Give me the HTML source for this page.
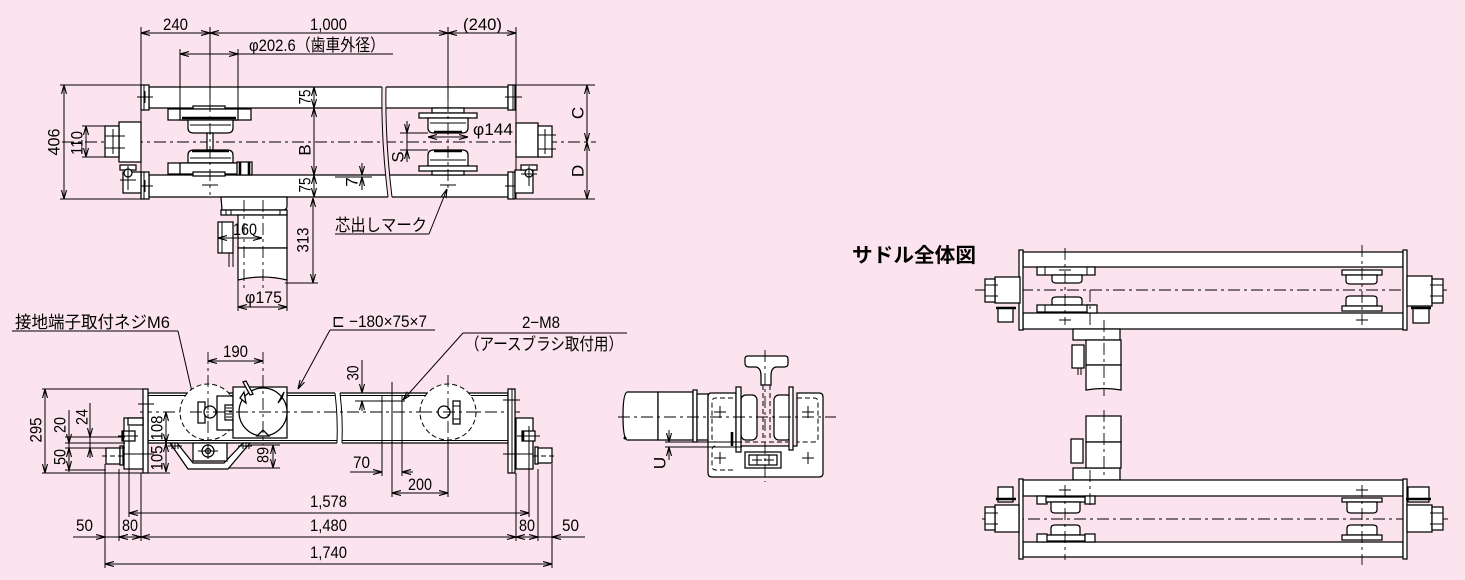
<!DOCTYPE html>
<html><head><meta charset="utf-8"><style>
html,body{margin:0;padding:0;background:#fce4ef;}
svg{display:block}
text{font-family:"Liberation Sans","Noto Sans CJK JP",sans-serif;fill:#000;font-size:17px;}
.o{fill:#fff;stroke:#000;stroke-width:1.25}
.l{fill:none;stroke:#000;stroke-width:1}
.t{fill:none;stroke:#000;stroke-width:2.6}
.c{fill:none;stroke:#000;stroke-width:0.9;stroke-dasharray:12 4 3 4}
.h{fill:none;stroke:#000;stroke-width:1;stroke-dasharray:5 3}
.d{fill:none;stroke:#000;stroke-width:1;marker-start:url(#ar);marker-end:url(#ar)}
.e{fill:none;stroke:#000;stroke-width:1;marker-end:url(#ar)}
.r{text-anchor:middle;dominant-baseline:central}
</style></head><body>
<svg width="1465" height="580" viewBox="0 0 1465 580" xmlns="http://www.w3.org/2000/svg">
<defs>
<marker id="ar" viewBox="0 0 9 6" refX="9" refY="3" markerWidth="9" markerHeight="6" markerUnits="userSpaceOnUse" orient="auto-start-reverse">
<path d="M0,0.5 L9,3 L0,5.5" fill="none" stroke="#000" stroke-width="1.1"/>
</marker>
</defs>
<rect width="1465" height="580" fill="#fce4ef"/>

<!-- ================= TOP VIEW ================= -->
<line class="c" x1="62" y1="142" x2="596" y2="142"/>
<rect class="o" x="149" y="87" width="359" height="21"/>
<rect class="o" x="149" y="175" width="359" height="22"/>
<path d="M382,86 Q381,140 388,198 L392,198 Q385,140 386,86 Z" fill="#fce4ef"/>
<path class="l" d="M382,87 Q381,140 388,197 M386,87 Q385,140 392,197"/>
<line class="l" x1="335" y1="177" x2="372" y2="177"/>
<rect class="o" x="141" y="85" width="8" height="25"/>
<rect class="o" x="141" y="172" width="8" height="27"/>
<path class="l" d="M141,85V199 M144,85V110 M144,172V199"/>
<path class="l" d="M137,97H153 M145,91V103 M137,186H153 M145,180V192"/>
<rect class="o" x="508" y="85" width="7" height="25"/>
<rect class="o" x="508" y="172" width="7" height="27"/>
<path class="l" d="M516,85V199 M513,85V110 M513,172V199"/>
<path class="l" d="M505,97H522 M513,91V103 M505,186H522 M513,180V192"/>
<rect class="o" x="119" y="122" width="22" height="40"/>
<rect class="o" x="105" y="126" width="14" height="31"/>
<path class="l" d="M105,136H125 M105,148H125 M113,129V154"/>
<rect class="o" x="123" y="172" width="18" height="21"/>
<rect class="o" x="120" y="165" width="16" height="5"/>
<circle class="o" cx="128" cy="173" r="4"/>
<path class="l" d="M128,166V190 M120,180H136"/>
<rect class="o" x="516" y="123" width="22" height="34"/>
<rect class="o" x="538" y="126" width="14" height="31"/>
<path class="l" d="M538,135H556 M538,149H556 M545,129V154"/>
<rect class="o" x="515" y="170" width="18" height="23"/>
<rect class="o" x="521" y="165" width="16" height="5"/>
<circle class="o" cx="529" cy="173" r="4"/>
<path class="l" d="M529,166V186 M521,174H537"/>
<rect class="o" x="193" y="106" width="32" height="4"/>
<rect class="o" x="168" y="109" width="83" height="11"/>
<rect class="o" x="180" y="109" width="58" height="11"/>
<line class="t" x1="182" y1="118" x2="236" y2="118"/>
<path class="o" d="M188,120 V128 Q188,133 194,133 H227 Q233,133 233,128 V120 Z"/>
<line class="l" x1="190" y1="125" x2="231" y2="125"/>
<rect class="o" x="207" y="133" width="6" height="17"/>
<path class="o" d="M188,163 V155 Q188,150 194,150 H227 Q233,150 233,155 V163 Z"/>
<line class="t" x1="192" y1="151" x2="229" y2="151"/>
<line class="l" x1="190" y1="158" x2="231" y2="158"/>
<rect class="o" x="168" y="163" width="83" height="11"/>
<rect class="o" x="180" y="163" width="58" height="11"/>
<rect class="o" x="193" y="172" width="32" height="4"/>
<rect class="o" x="237" y="162" width="15" height="13"/>
<path class="t" d="M240,162V175 M249,162V175"/>
<rect class="o" x="432" y="108" width="32" height="5"/>
<rect class="o" x="419" y="113" width="58" height="5"/>
<path class="o" d="M428,118 V128 Q428,133 434,133 H462 Q468,133 468,128 V118 Z"/>
<line class="t" x1="434" y1="132" x2="462" y2="132"/>
<line class="l" x1="430" y1="123" x2="466" y2="123"/>
<path class="o" d="M428,166 V155 Q428,150 434,150 H462 Q468,150 468,155 V166 Z"/>
<line class="t" x1="434" y1="151" x2="462" y2="151"/>
<line class="l" x1="430" y1="160" x2="466" y2="160"/>
<rect class="o" x="419" y="166" width="58" height="5"/>
<rect class="o" x="432" y="171" width="32" height="4"/>
<path class="l" d="M210,27V100 M448,27V100"/>
<path class="c" d="M210,100V195 M448,100V192"/>
<path class="l" d="M202,185H218 M440,185H456"/>
<path class="l" d="M141,27V85 M516,27V85 M180,49V109 M238,49V109"/>
<line class="d" x1="141" y1="33" x2="210" y2="33"/>
<line class="d" x1="210" y1="33" x2="448" y2="33"/>
<line class="d" x1="448" y1="33" x2="516" y2="33"/>
<line class="d" x1="180" y1="54" x2="238" y2="54"/>
<line class="l" x1="238" y1="54" x2="393" y2="54"/>
<text x="163" y="30" textLength="25" lengthAdjust="spacingAndGlyphs">240</text>
<text x="310" y="30" textLength="37" lengthAdjust="spacingAndGlyphs">1,000</text>
<text x="463" y="30" textLength="39" lengthAdjust="spacingAndGlyphs">(240)</text>
<text x="249" y="51" textLength="136" lengthAdjust="spacingAndGlyphs">φ202.6（歯車外径）</text>
<path class="l" d="M60,85H141 M60,199H141 M82,126H105 M82,157H105"/>
<line class="d" x1="64" y1="85" x2="64" y2="199"/>
<line class="d" x1="86" y1="126" x2="86" y2="157"/>
<text class="r" transform="translate(54,142) rotate(-90)" textLength="27" lengthAdjust="spacingAndGlyphs">406</text>
<text class="r" transform="translate(77,143) rotate(-90)" textLength="24" lengthAdjust="spacingAndGlyphs">110</text>
<line class="d" x1="314" y1="87" x2="314" y2="108"/>
<line class="d" x1="314" y1="108" x2="314" y2="175"/>
<line class="d" x1="314" y1="175" x2="314" y2="197"/>
<text class="r" transform="translate(305,97) rotate(-90)" textLength="15" lengthAdjust="spacingAndGlyphs">75</text>
<text class="r" transform="translate(305,150) rotate(-90)">B</text>
<text class="r" transform="translate(305,185) rotate(-90)" textLength="15" lengthAdjust="spacingAndGlyphs">75</text>
<path class="l" d="M516,85H595 M516,199H595"/>
<line class="d" x1="587" y1="85" x2="587" y2="142"/>
<line class="d" x1="587" y1="142" x2="587" y2="199"/>
<text class="r" transform="translate(578,113) rotate(-90)">C</text>
<text class="r" transform="translate(578,171) rotate(-90)">D</text>
<path class="l" d="M400,133H428 M400,150H428 M407,133V150"/>
<line class="e" x1="407" y1="121" x2="407" y2="133"/>
<line class="e" x1="407" y1="162" x2="407" y2="150"/>
<text class="r" transform="translate(398,157) rotate(-90)">S</text>
<line class="e" x1="362" y1="163" x2="362" y2="175"/>
<line class="e" x1="362" y1="190" x2="362" y2="177"/>
<text class="r" transform="translate(352,182) rotate(-90)">7</text>
<line class="d" x1="428" y1="137" x2="468" y2="137"/>
<text x="473" y="135" textLength="40" lengthAdjust="spacingAndGlyphs">φ144</text>
<line class="l" x1="335" y1="234" x2="429" y2="234"/>
<line class="e" x1="429" y1="234" x2="447" y2="189"/>
<text x="335" y="231" textLength="92" lengthAdjust="spacingAndGlyphs">芯出しマーク</text>

<path class="o" d="M221,197 H287 V206 Q287,210 283,210 H222 Z"/>
<rect class="o" x="221" y="210" width="66" height="5"/>
<path class="l" d="M226,210V215 M231,210V215 M280,210V215"/>
<rect class="o" x="238" y="215" width="49" height="33"/>
<path class="o" d="M238,248 H287 V280 Q262,274 238,280 Z"/>
<rect class="o" x="218" y="222" width="15" height="31"/>
<path class="l" d="M222,222V253 M229,253V267 M233,253V267"/>
<path class="c" d="M244,200V290 M263,200V290"/>
<line class="d" x1="218" y1="238" x2="262" y2="238"/>
<text x="233" y="235" textLength="24" lengthAdjust="spacingAndGlyphs">160</text>
<path class="l" d="M238,280V311 M287,280V311 M285,283H318"/>
<line class="d" x1="238" y1="307" x2="287" y2="307"/>
<text x="245" y="303" textLength="37" lengthAdjust="spacingAndGlyphs">φ175</text>
<line class="d" x1="313" y1="198" x2="313" y2="283"/>
<text class="r" transform="translate(303,240) rotate(-90)" textLength="25" lengthAdjust="spacingAndGlyphs">313</text>

<!-- ================= FRONT ELEVATION ================= -->
<text x="15" y="328" textLength="155" lengthAdjust="spacingAndGlyphs">接地端子取付ネジM6</text>
<line class="l" x1="12" y1="331" x2="178" y2="331"/>
<line class="e" x1="178" y1="331" x2="195" y2="405"/>
<rect class="o" x="148" y="393" width="360" height="50"/>
<path class="l" d="M148,395.5H508 M148,440.5H508"/>
<path d="M335,392 Q338,418 337,444 L342,444 Q343,418 340,392 Z" fill="#fff"/>
<path class="l" d="M335,393 Q338,418 337,443 M340,393 Q343,418 342,443"/>
<line class="c" x1="140" y1="412" x2="520" y2="412"/>
<rect class="o" x="143" y="389" width="5" height="84"/>
<rect class="o" x="508" y="389" width="7" height="84"/>
<line class="l" x1="512" y1="389" x2="512" y2="473"/>
<path class="l" d="M138,404H154 M138,454H154 M503,400H520 M503,454H520"/>
<rect class="o" x="124" y="418" width="19" height="51"/>
<rect class="o" x="128" y="418" width="15" height="7"/>
<rect class="o" x="122" y="431" width="13" height="10"/>
<path class="t" d="M123,431V441"/>
<path class="l" d="M118,436H138 M129,426V446 M124,454H143"/>
<rect class="o" x="106" y="448" width="14" height="16"/>
<rect class="o" x="120" y="446" width="3" height="19"/>
<line class="h" x1="102" y1="456" x2="126" y2="456"/>
<rect class="o" x="516" y="418" width="17" height="51"/>
<rect class="o" x="522" y="431" width="13" height="10"/>
<path class="t" d="M523,431V441"/>
<path class="l" d="M517,436H540 M529,426V446 M516,454H533"/>
<rect class="o" x="535" y="447" width="3" height="17"/>
<rect class="o" x="538" y="448" width="14" height="15"/>
<line class="h" x1="533" y1="456" x2="557" y2="456"/>
<circle cx="208" cy="412" r="28" fill="#fff" stroke="#000" stroke-width="1" stroke-dasharray="5 3"/>
<rect class="o" x="198" y="402" width="7" height="21"/>
<circle class="o" cx="210" cy="412" r="6"/>
<rect class="o" x="217" y="396" width="16" height="34"/>
<rect class="o" x="225" y="405" width="8" height="15"/>
<path class="l" d="M226,408H232 M226,411H232 M226,414H232 M226,417H232"/>
<rect class="o" x="233" y="387" width="54" height="51"/>
<circle class="o" cx="263" cy="412" r="24"/>
<path class="o" d="M257,436 L263,430 L269,436 Z"/>
<path class="o" d="M240,398 L246,403 L244,392 Z"/>
<path class="o" d="M282,398 L278,403 L284,392 Z"/>
<path class="o" d="M243,382 L246,381 L253,394 L250,395 Z"/>
<path class="c" d="M208,352V445 M263,352V445"/>
<line class="c" x1="190" y1="412" x2="290" y2="412"/>
<path class="o" d="M170,443 H177 L193,463 H224 L243,443 H250 L228,469 H188 Z"/>
<rect class="o" x="193" y="443" width="34" height="18"/>
<circle class="o" cx="208" cy="451" r="6"/>
<circle class="o" cx="208" cy="451" r="2.5"/>
<path class="l" d="M198,451H218 M208,444V459"/>
<path class="l" d="M172,443V449 M175,443V449 M178,443V449 M243,443V449 M246,443V449 M249,443V449 M168,446H182 M238,446H252"/>
<path class="l" d="M42,389H143 M42,473H170 M65,437H125 M65,443H125 M65,448H125 M65,470H106 M160,443H175"/>
<line class="d" x1="45" y1="389" x2="45" y2="473"/>
<text class="r" transform="translate(36,430) rotate(-90)" textLength="25" lengthAdjust="spacingAndGlyphs">295</text>
<line class="l" x1="69" y1="410" x2="69" y2="472"/>
<line class="e" x1="69" y1="430" x2="69" y2="443"/>
<line class="e" x1="69" y1="460" x2="69" y2="448"/>
<line class="e" x1="69" y1="458" x2="69" y2="470"/>
<text class="r" transform="translate(60,425) rotate(-90)" textLength="16" lengthAdjust="spacingAndGlyphs">20</text>
<text class="r" transform="translate(60,457) rotate(-90)" textLength="16" lengthAdjust="spacingAndGlyphs">50</text>
<line class="l" x1="90" y1="403" x2="90" y2="452"/>
<line class="e" x1="90" y1="425" x2="90" y2="437"/>
<line class="e" x1="90" y1="458" x2="90" y2="448"/>
<text class="r" transform="translate(82,417) rotate(-90)" textLength="16" lengthAdjust="spacingAndGlyphs">24</text>
<line class="d" x1="166" y1="412" x2="166" y2="443"/>
<line class="d" x1="166" y1="443" x2="166" y2="472"/>
<text class="r" transform="translate(157,428) rotate(-90)" textLength="25" lengthAdjust="spacingAndGlyphs">108</text>
<text class="r" transform="translate(157,458) rotate(-90)" textLength="25" lengthAdjust="spacingAndGlyphs">105</text>
<line class="d" x1="208" y1="361" x2="263" y2="361"/>
<text x="223" y="357" textLength="25" lengthAdjust="spacingAndGlyphs">190</text>
<path class="l" d="M250,445H280 M228,468H280"/>
<line class="d" x1="273" y1="445" x2="273" y2="468"/>
<text class="r" transform="translate(263,455) rotate(-90)" textLength="16" lengthAdjust="spacingAndGlyphs">89</text>
<line class="l" x1="330" y1="330" x2="435" y2="330"/>
<line class="e" x1="330" y1="330" x2="298" y2="389"/>
<text x="332" y="327" textLength="95" lengthAdjust="spacingAndGlyphs">⊏ −180×75×7</text>
<line class="l" x1="463" y1="333" x2="627" y2="333"/>
<line class="e" x1="463" y1="333" x2="403" y2="400"/>
<text x="522" y="328" textLength="38" lengthAdjust="spacingAndGlyphs">2−M8</text>
<text x="465" y="350" textLength="158" lengthAdjust="spacingAndGlyphs">（アースブラシ取付用）</text>
<circle cx="448" cy="412" r="28" fill="#fff" stroke="#000" stroke-width="1" stroke-dasharray="5 3"/>
<rect class="o" x="453" y="401" width="7" height="23"/>
<circle class="o" cx="444" cy="412" r="6"/>
<path class="l" d="M453,406H460 M453,419H460"/>
<path class="c" d="M448,375V440"/>
<line class="c" x1="420" y1="412" x2="480" y2="412"/>
<path class="l" d="M355,401H405"/>
<line class="e" x1="362" y1="360" x2="362" y2="393"/>
<line class="e" x1="362" y1="411" x2="362" y2="401"/>
<text class="r" transform="translate(353,373) rotate(-90)" textLength="15" lengthAdjust="spacingAndGlyphs">30</text>
<path class="l" d="M382,396V476 M392,382V497 M402,396V476 M448,440V497"/>
<line class="e" x1="350" y1="472" x2="382" y2="472"/>
<line class="e" x1="413" y1="472" x2="402" y2="472"/>
<text x="353" y="468" textLength="17" lengthAdjust="spacingAndGlyphs">70</text>
<line class="d" x1="392" y1="493" x2="448" y2="493"/>
<text x="408" y="490" textLength="24" lengthAdjust="spacingAndGlyphs">200</text>
<path class="l" d="M105,464V568 M119,469V541 M129,440V517 M141,473V541 M516,473V541 M529,440V517 M538,469V541 M552,464V568"/>
<line class="d" x1="129" y1="513" x2="529" y2="513"/>
<line class="d" x1="141" y1="537" x2="516" y2="537"/>
<line class="d" x1="119" y1="537" x2="141" y2="537"/>
<line class="d" x1="516" y1="537" x2="538" y2="537"/>
<line class="e" x1="73" y1="537" x2="105" y2="537"/>
<line class="l" x1="105" y1="537" x2="119" y2="537"/>
<line class="e" x1="585" y1="537" x2="552" y2="537"/>
<line class="l" x1="538" y1="537" x2="552" y2="537"/>
<line class="d" x1="105" y1="564" x2="552" y2="564"/>
<text x="310" y="507" textLength="37" lengthAdjust="spacingAndGlyphs">1,578</text>
<text x="310" y="531" textLength="37" lengthAdjust="spacingAndGlyphs">1,480</text>
<text x="310" y="558" textLength="37" lengthAdjust="spacingAndGlyphs">1,740</text>
<text x="76" y="531" textLength="17" lengthAdjust="spacingAndGlyphs">50</text>
<text x="122" y="531" textLength="16" lengthAdjust="spacingAndGlyphs">80</text>
<text x="519" y="531" textLength="16" lengthAdjust="spacingAndGlyphs">80</text>
<text x="562" y="531" textLength="17" lengthAdjust="spacingAndGlyphs">50</text>

<!-- ================= SIDE VIEW ================= -->
<path class="o" d="M627,392 H658 V440 H627 Q623,438 623,416 Q623,394 627,392 Z"/>
<rect class="o" x="658" y="392" width="35" height="48"/>
<rect class="o" x="693" y="390" width="4" height="52"/>
<rect class="o" x="697" y="394" width="11" height="46"/>
<circle cx="625" cy="438" r="1.5" fill="#000"/>
<path class="o" d="M711,393 H736 V446 H797 V393 H819 Q823,393 823,397 V473 Q823,477 819,477 H712 Q708,477 708,473 V397 Q708,393 711,393 Z"/>
<path class="h" d="M733,398 H716 Q712,398 712,402 V438 Q712,442 716,442 H733 M797,398 H814 Q818,398 818,402 V438 Q818,442 814,442 H797 M733,470 H716 Q712,470 712,466 V450 Q712,446 716,446"/>
<path class="o" d="M748,356 H785 Q788,356 788,359 V364 Q788,367 784,367 H776 Q771,368 771,376 V385 H761 V376 Q761,368 756,367 H749 Q745,367 745,363 V359 Q745,356 748,356 Z"/>
<path class="h" d="M763,385V438 M770,385V438 M745,442H788"/>
<rect class="o" x="741" y="395" width="16" height="45" rx="5"/>
<rect class="o" x="774" y="395" width="18" height="45" rx="5"/>
<rect class="o" x="736" y="387" width="5" height="65"/>
<rect class="o" x="789" y="387" width="4" height="63"/>
<path class="t" d="M732,432V446"/>
<rect class="o" x="745" y="452" width="36" height="16"/>
<rect class="o" x="749" y="455" width="28" height="10"/>
<path class="l" d="M752,460H762 M757,455V465 M764,460H774 M769,455V465"/>
<path class="l" d="M714,412H726 M720,406V418 M802,412H814 M808,406V418 M714,458H726 M720,452V464 M802,458H814 M808,452V464"/>
<line class="c" x1="618" y1="417" x2="836" y2="417"/>
<line class="c" x1="765" y1="350" x2="765" y2="482"/>
<path class="l" d="M665,442H742 M665,447H742"/>
<line class="e" x1="669" y1="430" x2="669" y2="442"/>
<line class="e" x1="669" y1="460" x2="669" y2="447"/>
<text class="r" transform="translate(660,463) rotate(-90)">U</text>

<!-- ================= SADDLE OVERALL ================= -->
<text x="852" y="262" textLength="124" lengthAdjust="spacingAndGlyphs" style="font-size:20px;font-weight:bold">サドル全体図</text>
<line class="c" x1="975" y1="290" x2="1450" y2="290"/>
<rect class="o" x="1023" y="252" width="380" height="15"/>
<rect class="o" x="1023" y="313" width="380" height="16"/>
<rect class="o" x="1019" y="250" width="4" height="80"/>
<rect class="o" x="1403" y="250" width="4" height="80"/>
<rect class="o" x="995" y="277" width="25" height="26"/>
<rect class="o" x="985" y="279" width="10" height="23"/>
<path class="l" d="M985,285H998 M985,296H998"/>
<rect class="o" x="998" y="308" width="15" height="14"/>
<path class="t" d="M996,308H1016"/>
<rect class="o" x="1407" y="276" width="25" height="30"/>
<rect class="o" x="1432" y="279" width="11" height="24"/>
<path class="l" d="M1430,285H1443 M1430,296H1443"/>
<rect class="o" x="1413" y="308" width="16" height="15"/>
<path class="t" d="M1411,308H1431"/>
<rect class="o" x="1037" y="267" width="58" height="8"/>
<path class="l" d="M1045,267V275 M1087,267V275"/>
<path class="o" d="M1052,275 V280 Q1052,283 1056,283 H1078 Q1082,283 1082,280 V275 Z"/>
<path class="o" d="M1052,305 V300 Q1052,297 1056,297 H1078 Q1082,297 1082,300 V305 Z"/>
<rect class="o" x="1037" y="305" width="58" height="7"/>
<rect class="o" x="1087" y="305" width="10" height="8"/>
<path class="l" d="M1045,305V312"/>
<path class="c" d="M1065,248V325 M1090,290V332"/>
<path class="l" d="M1059,270H1071 M1059,320H1071"/>
<rect class="o" x="1342" y="270" width="40" height="5"/>
<path class="o" d="M1346,275 V281 Q1346,284 1350,284 H1373 Q1377,284 1377,281 V275 Z"/>
<path class="o" d="M1346,306 V299 Q1346,296 1350,296 H1373 Q1377,296 1377,299 V306 Z"/>
<rect class="o" x="1342" y="306" width="40" height="5"/>
<path class="c" d="M1362,245V325"/>
<path class="l" d="M1356,320H1368"/>
<path class="o" d="M1073,329 H1120 V340 H1073 Z"/>
<rect class="o" x="1086" y="340" width="35" height="25"/>
<path class="o" d="M1086,365 H1121 V390 Q1104,387 1086,390 Z"/>
<rect class="o" x="1072" y="345" width="12" height="23"/>
<path class="l" d="M1078,368V375 M1081,368V375"/>
<path class="c" d="M1104,320V396"/>
<line class="c" x1="982" y1="519" x2="1448" y2="519"/>
<rect class="o" x="1073" y="468" width="47" height="12"/>
<rect class="o" x="1086" y="416" width="35" height="26"/>
<rect class="o" x="1086" y="442" width="35" height="26"/>
<rect class="o" x="1071" y="439" width="12" height="24"/>
<path class="c" d="M1104,410V478"/>
<rect class="o" x="1023" y="480" width="380" height="16"/>
<rect class="o" x="1023" y="542" width="380" height="15"/>
<rect class="o" x="1019" y="479" width="4" height="80"/>
<rect class="o" x="1403" y="479" width="4" height="80"/>
<rect class="o" x="995" y="505" width="24" height="27"/>
<rect class="o" x="985" y="507" width="10" height="23"/>
<path class="l" d="M985,513H998 M985,524H998"/>
<rect class="o" x="998" y="487" width="15" height="15"/>
<path class="t" d="M996,499H1016"/>
<rect class="o" x="1407" y="505" width="25" height="27"/>
<rect class="o" x="1432" y="507" width="11" height="23"/>
<path class="l" d="M1430,513H1443 M1430,524H1443"/>
<rect class="o" x="1408" y="487" width="21" height="15"/>
<path class="t" d="M1406,499H1431"/>
<rect class="o" x="1037" y="496" width="10" height="8"/>
<rect class="o" x="1085" y="496" width="10" height="8"/>
<rect class="o" x="1046" y="497" width="39" height="5"/>
<path class="o" d="M1051,502 V510 Q1051,513 1055,513 H1076 Q1080,513 1080,510 V502 Z"/>
<path class="o" d="M1051,535 V528 Q1051,525 1055,525 H1076 Q1080,525 1080,528 V535 Z"/>
<rect class="o" x="1046" y="535" width="39" height="6"/>
<rect class="o" x="1037" y="534" width="10" height="8"/>
<rect class="o" x="1085" y="534" width="10" height="8"/>
<path class="c" d="M1065,485V560 M1090,470V505"/>
<path class="l" d="M1059,490H1071"/>
<rect class="o" x="1342" y="498" width="40" height="4"/>
<path class="o" d="M1347,502 V510 Q1347,513 1351,513 H1373 Q1377,513 1377,510 V502 Z"/>
<path class="o" d="M1347,535 V528 Q1347,525 1351,525 H1373 Q1377,525 1377,528 V535 Z"/>
<rect class="o" x="1342" y="535" width="40" height="5"/>
<path class="c" d="M1362,485V565"/>
<path class="l" d="M1356,490H1368"/>
</svg>
</body></html>
